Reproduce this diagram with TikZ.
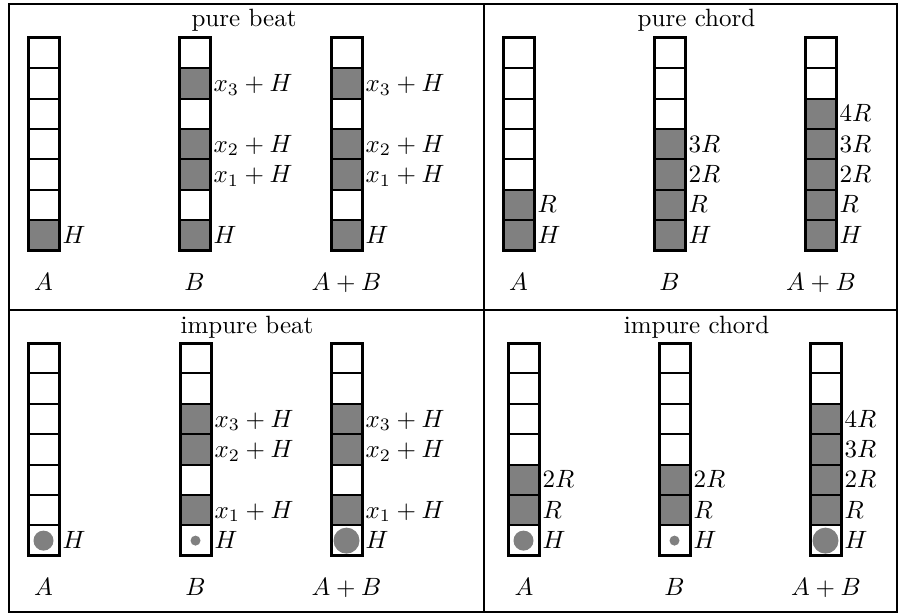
\documentclass[tikz,border=0pt]{standalone}
\newcommand{\mycol}[6]{% #1 name, #2 x left, #3 y top, #4 gray cells, #5 dot radius, #6 labels
  \def\graylist{#4}%
  \ifx\graylist\empty\else
    \foreach \ci in {#4} \fill[shadecell] (#2,{#3+(6-\ci)*30.4}) rectangle ++(31,30.4);
  \fi
  \ifdim #5pt>0pt \fill[dotfill] ({#2+15.5},{#3+6.5*30.4}) circle[radius=#5]; \fi
  \foreach \ci in {1,...,6} \draw[cellline] (#2,{#3+\ci*30.4}) -- ++(31,0);
  \draw[colframe] (#2,#3) rectangle ++(31,212.8);
  \foreach \ci/\lbl in {#6} \node[lab] (#1-\ci) at ({#2+34},{#3+(6.5-\ci)*30.4+8}) {$\lbl$};
}
\begin{document}
\begin{tikzpicture}[x=0.4pt,y=-0.4pt,
  rule/.style={line width=0.8pt},
  cellline/.style={line width=0.8pt},
  colframe/.style={line width=1.2pt},
  shadecell/.style={fill=gray},
  dotfill/.style={fill=gray},
  lab/.style={anchor=base west,inner sep=0pt},
  colname/.style={anchor=base,inner sep=0pt},
  paneltitle/.style={anchor=base,inner sep=0pt}]
\useasboundingbox (0,0) rectangle (900,614);
% table rules
\draw[rule] (8.5,4) rectangle (896.5,611.5);
\draw[rule] (8.5,310) -- (896.5,310);
\draw[rule] (484,4) -- (484,611.5);
% titles
\node[paneltitle] (t1) at (244,26) {pure beat};
\node[paneltitle] (t2) at (696.5,26) {pure chord};
\node[paneltitle] (t3) at (247,333) {impure beat};
\node[paneltitle] (t4) at (696.5,333) {impure chord};
% pure beat
\mycol{pbA}{28}{37.7}{0}{0}{0/H}
\mycol{pbB}{179}{37.7}{0,2,3,5}{0}{0/H,2/x_1+H,3/x_2+H,5/x_3+H}
\mycol{pbAB}{331}{37.7}{0,2,3,5}{0}{0/H,2/x_1+H,3/x_2+H,5/x_3+H}
\node[colname] (n1) at (43.5,290) {$A$};
\node[colname] (n2) at (194.5,290) {$B$};
\node[colname] (n3) at (346.5,290) {$A+B$};
% pure chord
\mycol{pcA}{503}{37.7}{0,1}{0}{0/H,1/R}
\mycol{pcB}{654}{37.7}{0,1,2,3}{0}{0/H,1/R,2/2R,3/3R}
\mycol{pcAB}{805}{37.7}{0,1,2,3,4}{0}{0/H,1/R,2/2R,3/3R,4/4R}
\node[colname] (n4) at (518.5,290) {$A$};
\node[colname] (n5) at (669.5,290) {$B$};
\node[colname] (n6) at (821,290) {$A+B$};
% impure beat
\mycol{ibA}{28}{343}{}{10}{0/H}
\mycol{ibB}{180}{343}{1,3,4}{5}{0/H,1/x_1+H,3/x_2+H,4/x_3+H}
\mycol{ibAB}{331}{343}{1,3,4}{13}{0/H,1/x_1+H,3/x_2+H,4/x_3+H}
\node[colname] (n7) at (43.5,595) {$A$};
\node[colname] (n8) at (195.5,595) {$B$};
\node[colname] (n9) at (346.5,595) {$A+B$};
% impure chord
\mycol{icA}{508}{343}{1,2}{10}{0/H,1/R,2/2R}
\mycol{icB}{659}{343}{1,2}{5}{0/H,1/R,2/2R}
\mycol{icAB}{810}{343}{1,2,3,4}{13}{0/H,1/R,2/2R,3/3R,4/4R}
\node[colname] (n10) at (524,595) {$A$};
\node[colname] (n11) at (674.5,595) {$B$};
\node[colname] (n12) at (826,595) {$A+B$};
\end{tikzpicture}
\end{document}
